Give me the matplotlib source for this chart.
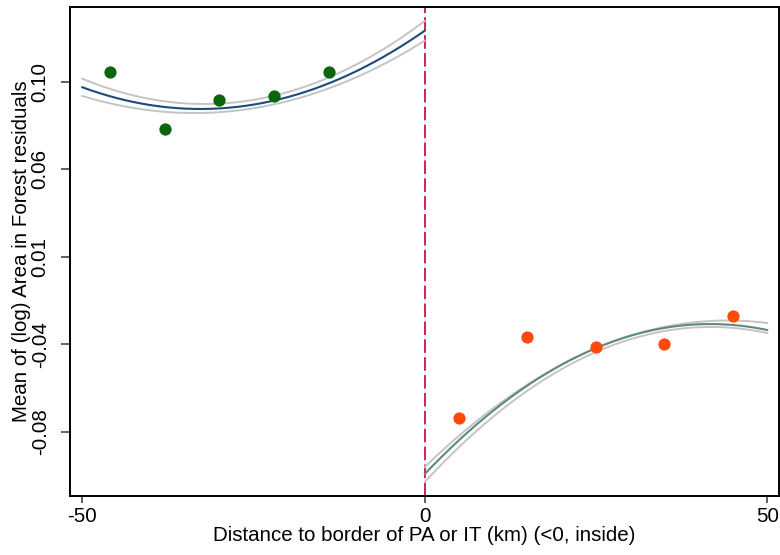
#!/usr/bin/env python3
"""Binned means of forest-area residuals either side of the PA/IT border, with quadratic fits."""

import matplotlib

matplotlib.use("Agg")
import matplotlib.pyplot as plt
import numpy as np

plt.rcParams["font.family"] = ["Liberation Sans", "DejaVu Sans"]

# binned means (km from border, mean residual)
inside_x = [-46, -38, -30, -22, -14]
inside_y = [0.1069, 0.0773, 0.0925, 0.0945, 0.1071]
outside_x = [5, 15, 25, 35, 45]
outside_y = [-0.0748, -0.0322, -0.0375, -0.0359, -0.0212]

# quadratic fit coefficients (a, b, c) for a*x^2 + b*x + c
inside_fit = [3.837e-5, 0.0025135, 0.12881]
inside_ci_hi = [4.207e-5, 0.0027101, 0.13391]
inside_ci_lo = [3.356e-5, 0.0022594, 0.12355]
outside_fit = [-4.534e-5, 0.003781, -0.10423]
outside_ci_hi = [-3.934e-5, 0.003481, -0.10055]
outside_ci_lo = [-4.670e-5, 0.0039016, -0.10844]

ytick_vals = [-0.082, -0.036, 0.010, 0.056, 0.102]
xtick_vals = [-50, 0, 50]


def draw_fit(ax, coefs, lo, hi, color, lw, z):
    xs = np.linspace(lo, hi, 200)
    ax.plot(xs, np.polyval(coefs, xs), color=color, lw=lw, zorder=z)


def main() -> None:
    fig = plt.figure(figsize=(7.8, 5.55), dpi=100)
    ax = fig.add_axes([70 / 780, 1 - 496 / 555, 708.7 / 780, 488.7 / 555])

    ax.axvline(0, color="#d3234f", lw=1.4, dashes=(7, 2.2), zorder=1)

    draw_fit(ax, inside_ci_hi, -50, 0, "#c4c4c4", 1.4, 2)
    draw_fit(ax, inside_ci_lo, -50, 0, "#c4c4c4", 1.4, 2)
    draw_fit(ax, inside_fit, -50, 0, "#1d4a7c", 1.5, 3)
    draw_fit(ax, outside_ci_hi, 0, 50, "#c4c4c4", 1.4, 2)
    draw_fit(ax, outside_ci_lo, 0, 50, "#c4c4c4", 1.4, 2)
    draw_fit(ax, outside_fit, 0, 50, "#5e8a7c", 1.5, 3)

    ax.scatter(inside_x, inside_y, s=78, color="#0b650b", linewidths=0, zorder=4)
    ax.scatter(outside_x, outside_y, s=78, color="#ff4a0a", linewidths=0, zorder=4)

    ax.set_xlim(-51.8, 51.68)
    ax.set_ylim(-0.1158, 0.1411)
    ax.set_xticks(xtick_vals)
    ax.set_xticklabels([str(v) for v in xtick_vals])
    ax.set_yticks(ytick_vals)
    ax.set_yticklabels([f"{v:.2f}" for v in ytick_vals], rotation=90, va="center")

    ax.tick_params(axis="both", width=1.2, color="#444444", labelsize=14.8)
    ax.tick_params(axis="x", length=5.2, pad=3)
    ax.tick_params(axis="y", length=6.6, pad=8)
    for side in ax.spines.values():
        side.set_linewidth(1.4)
        side.set_color("black")

    ax.set_xlabel("Distance to border of PA or IT (km) (<0, inside)", fontsize=14.8, labelpad=0)
    ax.set_ylabel("Mean of (log) Area in Forest residuals", fontsize=14.8, labelpad=0)

    fig.savefig("out.png", dpi=100)
    plt.close(fig)


if __name__ == "__main__":
    main()
